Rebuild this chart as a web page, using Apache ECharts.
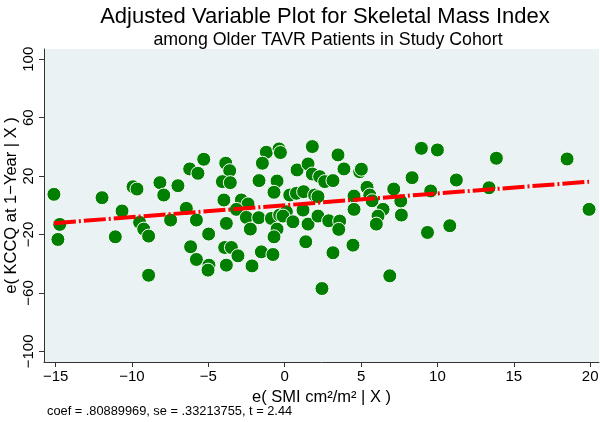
<!DOCTYPE html>
<html>
<head>
<meta charset="utf-8">
<script src="https://cdn.jsdelivr.net/npm/echarts@6/dist/echarts.min.js"></script>
<style>
html,body{margin:0;padding:0;background:#fff;}
#chart{width:600px;height:422px;}
</style>
</head>
<body>
<div id="chart"></div>
<script>
// Residuals of SMI (x) and KCCQ at 1 year (y)
const smiResid = [
  -15.11,-14.73,-14.85,-11.96,-10.65,-11.09,-9.93,-9.67,-9.50,-9.23,-8.91,-8.91,-8.17,-7.92,-7.47,-6.99,
  -6.22,-5.68,-5.30,-6.44,-5.78,-4.98,-6.16,-5.78,-4.96,-5.02,-3.86,-3.60,-4.08,-3.56,-3.98,-2.84,
  -2.40,-3.16,-2.51,-3.82,-2.25,-3.93,-3.49,-3.06,-3.82,-2.14,-1.68,-1.20,-1.46,-0.37,-0.28,-0.50,
  -0.70,-1.70,-0.87,-0.33,-0.50,-0.70,-1.53,-0.77,0.33,0.77,1.24,0.11,-0.11,0.54,
  0.81,1.53,1.81,1.81,1.38,1.20,1.53,3.49,3.88,4.91,5.02,2.29,2.62,3.16,
  1.96,2.18,2.18,2.88,3.60,3.54,4.54,4.54,5.39,5.57,5.72,6.44,6.11,6.00,7.14,7.60,
  7.64,4.47,3.16,2.44,6.88,8.34,8.95,10.0,9.56,9.35,10.81,11.24,13.86,13.38,18.49,19.93
];
const kccqResid = [
  7.5,-13.1,-23.4,5.2,-3.9,-21.6,12.7,11.1,-11.7,-16.3,-21.1,-47.9,15.5,7.0,-10.1,13.4,
  24.9,21.9,31.5,-2.1,-10.1,-19.7,-28.4,-37.1,-41.0,-44.4,28.8,23.7,16.2,15.5,3.6,3.6,
  0.9,-2.8,-8.3,-12.4,-16.3,-28.9,-28.9,-34.6,-41.0,-41.5,16.9,36.3,28.8,38.6,36.1,16.6,
  8.9,-8.5,-9.0,-6.7,-16.3,-21.6,-31.9,-33.7,7.0,8.2,9.3,-4.4,-7.4,-11.3,
  24.2,28.3,21.4,40.2,-25.0,-3.3,-12.9,34.5,24.9,23.0,24.7,19.6,16.2,16.9,
  7.0,5.9,-7.4,-10.6,-10.8,-16.5,6.3,-2.8,12.3,7.0,3.1,-2.8,-7.4,-12.9,11.1,2.9,
  -6.7,-27.3,-32.5,-57.0,-48.3,18.9,39.0,37.9,9.8,-18.6,-14.0,17.3,32.2,12.0,31.7,-2.8
];
const xTicks = [-15,-10,-5,0,5,10,15,20];
const yTicks = [-100,-60,-20,20,60,100];
const coef = 0.80889969;
const seCoef = 0.33213755;
const tStat = 2.44;

const points = smiResid.map((x, i) => [x, kccqResid[i]]);
const xMin = Math.min(...smiResid), xMax = Math.max(...smiResid);
const fitLine = [[xMin, coef * xMin], [xMax, coef * xMax]];

const FONT = 'Liberation Sans';
const fmt = v => String(v).replace('-', '\u2212');

const chart = echarts.init(document.getElementById('chart'), null, {renderer: 'canvas'});
chart.setOption({
  animation: false,
  backgroundColor: '#ffffff',
  textStyle: {fontFamily: FONT, color: '#000'},
  title: [
    {text: 'Adjusted Variable Plot for Skeletal Mass Index', left: 320, textAlign: 'center', top: 1,
     textStyle: {fontFamily: FONT, fontSize: 22, fontWeight: 'normal', color: '#000'}},
    {text: 'among Older TAVR Patients in Study Cohort', left: 323, textAlign: 'center', top: 26,
     textStyle: {fontFamily: FONT, fontSize: 17.8, fontWeight: 'normal', color: '#000'}}
  ],
  graphic: [{
    type: 'text', left: 47, top: 405,
    style: {text: 'coef = .80889969, se = .33213755, t = ' + tStat.toFixed(2), font: '12.8px "Liberation Sans"', fill: '#000'}
  }],
  grid: {left: 44, right: 1, top: 49, bottom: 60, show: true, backgroundColor: '#eaf2f3', borderWidth: 0,
         outerBoundsMode: 'none', containLabel: false},
  xAxis: {
    type: 'value', min: -15.76, max: 20.58,
    name: 'e( SMI cm\u00b2/m\u00b2 | X )', nameLocation: 'middle', nameGap: 21,
    nameTextStyle: {fontFamily: FONT, fontSize: 16.5, color: '#000'},
    axisLine: {show: true, onZero: false, lineStyle: {color: '#333', width: 1}},
    axisTick: {show: true, length: 5, customValues: xTicks, lineStyle: {color: '#333'}},
    axisLabel: {customValues: xTicks, formatter: fmt, fontFamily: FONT, fontSize: 15, color: '#000', margin: 7},
    splitLine: {show: false}
  },
  yAxis: {
    type: 'value', min: -107.3, max: 107,
    name: 'e( KCCQ at 1\u2212Year | X )', nameLocation: 'middle', nameGap: 24, nameRotate: 90,
    nameMoveOverlap: false,
    nameTextStyle: {fontFamily: FONT, fontSize: 16.5, color: '#000'},
    axisLine: {show: true, onZero: false, lineStyle: {color: '#333', width: 1}},
    axisTick: {show: true, length: 5, customValues: yTicks, lineStyle: {color: '#333'}},
    axisLabel: {customValues: yTicks, formatter: fmt, rotate: 90, fontFamily: FONT, fontSize: 15, color: '#000', margin: 8},
    splitLine: {show: false}
  },
  series: [
    {
      type: 'scatter', data: points, symbol: 'circle', symbolSize: 14,
      itemStyle: {color: '#007f00', borderColor: '#ffffff', borderWidth: 1, opacity: 1},
      z: 2
    },
    {
      type: 'line', data: fitLine, showSymbol: false, symbol: 'none',
      lineStyle: {color: '#ff0000', width: 4, type: [22, 3, 2, 3], cap: 'butt'},
      z: 3
    }
  ]
});
</script>
</body>
</html>
